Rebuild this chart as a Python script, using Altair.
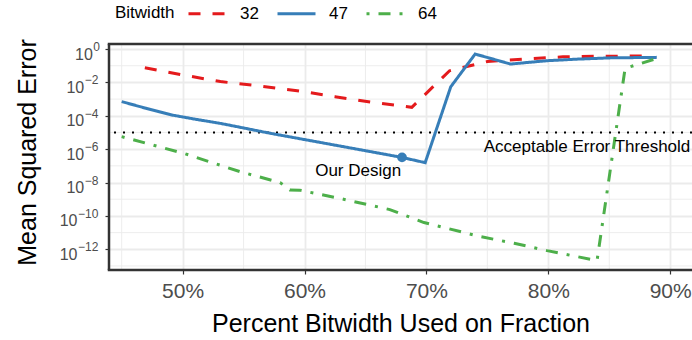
import altair as alt
import pandas as pd

FONT = "Liberation Sans"

# ---- data ----
bits = ["32", "47", "64"]
colors = ["#E41A1C", "#377EB8", "#4DAF4A"]
legend_title = ["Bitwidth"]

x_32 = [46.9, 50.0, 53.1, 56.2, 59.4, 62.5, 65.6, 68.8, 71.9, 75.0, 78.1, 81.2, 84.4, 88.0]
y_32 = [7.6e-2, 2.8e-2, 1.12e-2, 6.3e-3, 3.2e-3, 1.4e-3, 6.3e-4, 3.2e-4, 5.0e-2, 1.78e-1,
        2.5e-1, 3.4e-1, 3.7e-1, 3.8e-1]

x_47 = [45.0, 47.0, 49.1, 51.0, 53.1, 55.1, 57.2, 59.8, 62.4, 65.2, 68.0, 69.9, 72.0, 74.0,
        76.9, 79.9, 82.5, 85.1, 88.9]
y_47 = [7.1e-4, 2.8e-4, 1.12e-4, 6.3e-5, 3.5e-5, 1.8e-5, 8.9e-6, 4.0e-6, 1.8e-6, 7.6e-7,
        3.2e-7, 1.55e-7, 5.5e-3, 5.0e-1, 1.26e-1, 2.0e-1, 2.5e-1, 2.95e-1, 3.16e-1]

x_64 = [45.0, 50.1, 54.7, 58.0, 58.8, 59.6, 63.2, 67.0, 69.8, 74.4, 77.2, 79.9, 84.0, 86.3, 88.9]
y_64 = [5.6e-6, 5.6e-7, 4.5e-8, 1.0e-8, 3.6e-9, 3.5e-9, 1.0e-9, 2.4e-10, 4.0e-11, 5.8e-12,
        2.3e-12, 8.3e-13, 2.1e-13, 6.9e-2, 2.75e-1]

design_x = [68.0]
design_y = [3.2e-7]
threshold = [1e-5]

x_ticks = [50, 60, 70, 80, 90]
x_minor = [45, 55, 65, 75, 85]
y_ticks = [1e0, 1e-2, 1e-4, 1e-6, 1e-8, 1e-10, 1e-12]
y_minor = [1e-1, 1e-3, 1e-5, 1e-7, 1e-9, 1e-11, 1e-13]

rows = []
for b, xs, ys in [("32", x_32, y_32), ("47", x_47, y_47), ("64", x_64, y_64)]:
    rows += [{"bitwidth": b, "pct": x, "mse": y} for x, y in zip(xs, ys)]
df = pd.DataFrame(rows)

W, H = 583, 226
xscale = alt.Scale(domain=[43.96, 91.79], nice=False, zero=False)
yscale = alt.Scale(type="log", domain=[5.75e-14, 2.0], nice=False)

xaxis = alt.Axis(values=x_ticks, labelExpr="datum.value + '%'",
                 title="Percent Bitwidth Used on Fraction",
                 labelFont=FONT, labelFontSize=21, labelColor="#4D4D4D",
                 titleFont=FONT, titleFontSize=25, titleFontWeight="normal", titleColor="black",
                 titleBaseline="middle", titleY=53, titleX=W / 2,
                 domain=False, tickColor="#333333", tickSize=4, tickWidth=1.2,
                 grid=True, gridColor="#EBEBEB", gridWidth=1.8,
                 labelPadding=6)
yaxis = alt.Axis(values=y_ticks, labels=False, title="Mean Squared Error",
                 titleFont=FONT, titleFontSize=25, titleFontWeight="normal", titleColor="black",
                 titleBaseline="middle", titleX=-82, titleY=108, titleAngle=-90,
                 domain=False, tickColor="#333333", tickSize=4, tickWidth=1.2,
                 grid=True, gridColor="#EBEBEB", gridWidth=1.8)

legend = alt.Legend(title=None, orient="none", direction="horizontal",
                    legendX=78, legendY=-51,
                    labelFont=FONT, labelFontSize=17, labelColor="black",
                    symbolType="stroke", symbolSize=1444, symbolStrokeWidth=3,
                    labelOffset=12, columnPadding=12)

minor_x = alt.Chart(pd.DataFrame({"v": x_minor})).mark_rule(
    color="#EBEBEB", strokeWidth=0.9).encode(x=alt.X("v:Q", scale=xscale))
minor_y = alt.Chart(pd.DataFrame({"v": y_minor})).mark_rule(
    color="#EBEBEB", strokeWidth=0.9).encode(y=alt.Y("v:Q", scale=yscale))

lines = alt.Chart(df).mark_line(strokeWidth=3, clip=True).encode(
    x=alt.X("pct:Q", scale=xscale, axis=xaxis),
    y=alt.Y("mse:Q", scale=yscale, axis=yaxis),
    color=alt.Color("bitwidth:N", scale=alt.Scale(domain=bits, range=colors), legend=legend),
    strokeDash=alt.StrokeDash("bitwidth:N",
                              scale=alt.Scale(domain=bits, range=[[12, 12], [1, 0], [3, 9, 12, 9]]),
                              legend=legend),
)

legtitle = alt.Chart(pd.DataFrame({"t": legend_title})).mark_text(
    font=FONT, fontSize=17, align="left", baseline="middle", color="black").encode(
    x=alt.value(6), y=alt.value(-31), text="t:N")

# y tick labels: "10" with a raised exponent, right-aligned as a whole
ylab = alt.Chart(pd.DataFrame({"v": y_ticks})).transform_calculate(
    e="round(log(datum.v)/LN10)",
    es="datum.e == 0 ? '0' : '−' + abs(datum.e)",
    w="datum.e == 0 ? 6.7 : 8.6 + 6.7*length('' + abs(datum.e))",
    xe="-9 - datum.w",
    xb="-9.5 - datum.w",
)
base_lab = ylab.mark_text(font=FONT, fontSize=16, align="right", baseline="alphabetic",
                          color="#4D4D4D", dy=10.5).encode(
    x=alt.X("xb:Q", scale=None), y=alt.Y("v:Q", scale=yscale), text=alt.value("10"))
exp_lab = ylab.mark_text(font=FONT, fontSize=12, align="left", baseline="alphabetic",
                         color="#4D4D4D", dy=2).encode(
    x=alt.X("xe:Q", scale=None), y=alt.Y("v:Q", scale=yscale), text="es:N")

thresh = alt.Chart(pd.DataFrame({"t": threshold})).mark_rule(
    color="black", strokeWidth=2, strokeDash=[2, 7]).encode(y=alt.Y("t:Q", scale=yscale))

point = alt.Chart(pd.DataFrame({"x": design_x, "y": design_y})).mark_point(
    filled=True, size=95, opacity=1, color="#377EB8").encode(
    x=alt.X("x:Q", scale=xscale), y=alt.Y("y:Q", scale=yscale))

labels = pd.DataFrame({"x": [64.4, 91.65], "y": [5.0e-8, 1.35e-6],
                       "t": ["Our Design", "Acceptable Error Threshold"]})
txt1 = alt.Chart(labels.iloc[[0]]).mark_text(font=FONT, fontSize=17, align="center",
                                             baseline="middle", color="black").encode(
    x=alt.X("x:Q", scale=xscale), y=alt.Y("y:Q", scale=yscale), text="t:N")
txt2 = alt.Chart(labels.iloc[[1]]).mark_text(font=FONT, fontSize=17, align="right",
                                             baseline="middle", color="black").encode(
    x=alt.X("x:Q", scale=xscale), y=alt.Y("y:Q", scale=yscale), text="t:N")

border_l = alt.Chart().mark_rule(color="#333333", strokeWidth=2.5).encode(
    x=alt.value(0), y=alt.value(0), y2=alt.value(H))
border_t = alt.Chart().mark_rule(color="#333333", strokeWidth=2.5).encode(
    x=alt.value(-1.25), x2=alt.value(W + 10), y=alt.value(0))
border_b = alt.Chart().mark_rule(color="#333333", strokeWidth=2.5).encode(
    x=alt.value(-1.25), x2=alt.value(W + 10), y=alt.value(H))

chart = alt.layer(minor_x, minor_y, thresh, lines, point, txt1, txt2, base_lab, exp_lab,
                  legtitle, border_l, border_t, border_b).properties(
    width=W, height=H,
    autosize=alt.AutoSizeParams(type="none"),
    padding={"left": 109, "top": 44, "right": 0, "bottom": 70},
    background="white",
).configure_view(stroke=None)

chart.save("out.html", embed_options={"renderer": "svg", "actions": False})
